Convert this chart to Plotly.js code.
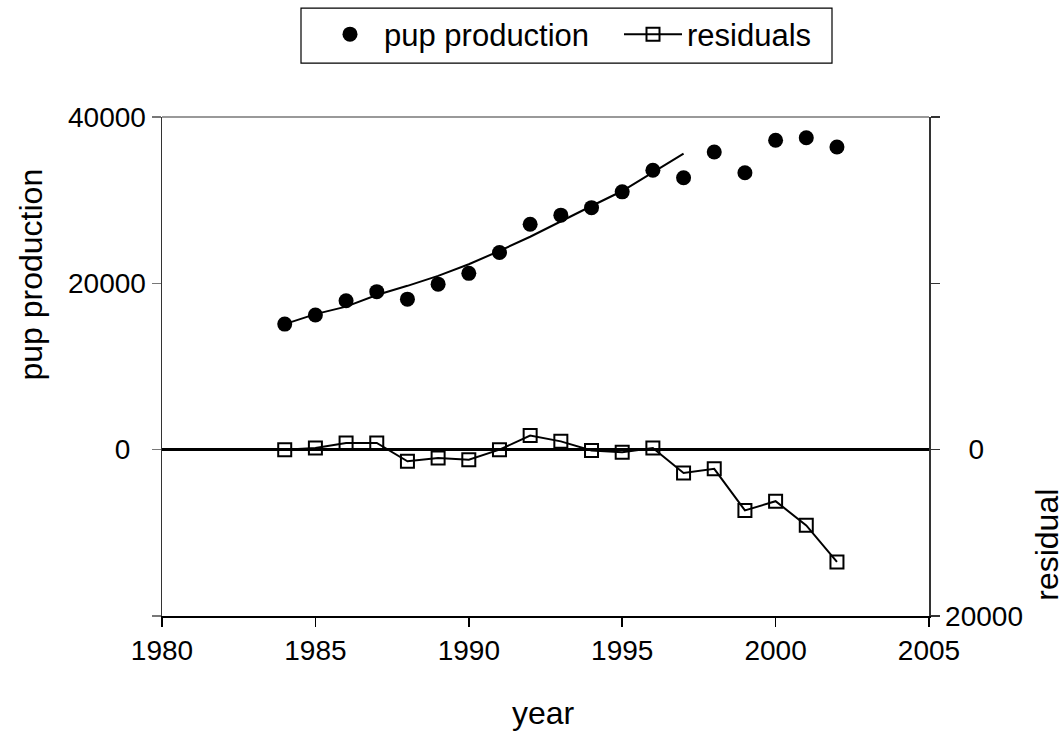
<!DOCTYPE html>
<html>
<head>
<meta charset="utf-8">
<script src="https://cdn.plot.ly/plotly-3.0.1.min.js"></script>
<style>
  html, body { margin: 0; padding: 0; background: #fff; }
  #chart { width: 1064px; height: 736px; }
</style>
</head>
<body>
<div id="chart"></div>
<script>
// ---- data ----
const years = [1984,1985,1986,1987,1988,1989,1990,1991,1992,1993,1994,1995,1996,1997,1998,1999,2000,2001,2002];
const pupProduction = [15100,16200,17900,19000,18100,19900,21200,23700,27100,28200,29100,31000,33600,32700,35800,33300,37200,37500,36400];
const fitYears = [1984,1985,1986,1987,1988,1989,1990,1991,1992,1993,1994,1995,1996,1997];
const fittedValues = [15100,16300,17200,18600,19700,20900,22300,23900,25600,27500,29300,31100,33400,35600];
const residuals = [0,200,800,800,-1400,-1000,-1200,0,1700,1000,-100,-300,200,-2800,-2300,-7300,-6200,-9100,-13500];
const xTicks = [1980,1985,1990,1995,2000,2005];
const leftTicks = [-20000,0,20000,40000];
const leftTickText = ['','0\u00a0\u00a0','20000','40000'];
const rightTicks = [-20000,0,20000,40000];
const rightTickText = ['20000','\u00a0\u00a0\u00a00','',''];

const FONT = 'Liberation Sans, Arial, sans-serif';

const traces = [
  {
    x: years, y: pupProduction, name: 'pup production', type: 'scatter', mode: 'markers',
    marker: {symbol: 'circle', size: 15, color: '#000'}, yaxis: 'y', legend: 'legend'
  },
  {
    x: fitYears, y: fittedValues, name: 'fitted', type: 'scatter', mode: 'lines',
    line: {color: '#000', width: 2}, showlegend: false, yaxis: 'y', hoverinfo: 'skip'
  },
  {
    x: years, y: residuals, name: 'residuals', type: 'scatter', mode: 'lines+markers',
    line: {color: '#000', width: 2},
    marker: {symbol: 'square-open', size: 13, color: '#000', line: {color: '#000', width: 2}},
    yaxis: 'y2', legend: 'legend2'
  }
];

const legendBase = {
  orientation: 'h', xref: 'container', yref: 'container',
  xanchor: 'left', y: 1 - 34.5 / 736, yanchor: 'middle',
  borderwidth: 0, bgcolor: 'rgba(0,0,0,0)',
  font: {family: FONT, size: 31, color: '#000'},
  itemwidth: 58
};

const layout = {
  width: 1064, height: 736,
  paper_bgcolor: '#fff', plot_bgcolor: '#fff',
  margin: {l: 162, r: 135, t: 117, b: 119.5},
  font: {family: FONT, color: '#000', size: 28},
  showlegend: true,
  legend: Object.assign({}, legendBase, {x: 316 / 1064}),
  legend2: Object.assign({}, legendBase, {x: 619 / 1064}),
  xaxis: {
    range: [1980, 2005], tickvals: xTicks, ticks: 'outside', ticklen: 9, tickwidth: 1.5, tickcolor: '#000',
    showline: true, linecolor: '#000', linewidth: 1.5, showgrid: false, zeroline: false,
    tickfont: {family: FONT, size: 28, color: '#000'}
  },
  yaxis: {
    range: [-20000, 40000], tickvals: leftTicks, ticktext: leftTickText, ticks: 'outside', ticklen: 9, tickwidth: 1.5, tickcolor: '#777',
    showline: true, linecolor: '#333', linewidth: 1.5, showgrid: false,
    zeroline: true, zerolinecolor: '#000', zerolinewidth: 2.5,
    tickfont: {family: FONT, size: 28, color: '#000'}
  },
  yaxis2: {
    overlaying: 'y', side: 'right', range: [-20000, 40000],
    tickvals: rightTicks, ticktext: rightTickText, ticks: 'outside', ticklen: 9, tickwidth: 1.5, tickcolor: '#333',
    showline: true, linecolor: '#333', linewidth: 1.5, showgrid: false, zeroline: false,
    tickfont: {family: FONT, size: 28, color: '#000'}
  },
  shapes: [
    {type: 'line', xref: 'paper', yref: 'paper', x0: 0, x1: 1, y0: 1, y1: 1, line: {color: '#999', width: 2}},
    // legend frame
    {type: 'rect', xref: 'paper', yref: 'paper',
     x0: (301 - 162) / 767, x1: (832 - 162) / 767,
     y0: (616.5 - 63) / 499.5, y1: (616.5 - 8) / 499.5,
     line: {color: '#000', width: 1.2}, fillcolor: 'rgba(0,0,0,0)', layer: 'below'}
  ],
  annotations: [
    {text: 'year', xref: 'paper', yref: 'paper', x: 0.497, y: -0.195, xanchor: 'center', yanchor: 'middle',
     showarrow: false, font: {family: FONT, size: 32, color: '#000'}},
    {text: 'pup production', xref: 'paper', yref: 'paper', x: -0.171, y: 0.684, xanchor: 'center', yanchor: 'middle',
     textangle: -90, showarrow: false, font: {family: FONT, size: 32, color: '#000'}},
    {text: 'residual', xref: 'paper', yref: 'paper', x: 1.154, y: 0.143, xanchor: 'center', yanchor: 'middle',
     textangle: -90, showarrow: false, font: {family: FONT, size: 32, color: '#000'}}
  ]
};

Plotly.newPlot('chart', traces, layout, {staticPlot: true, displayModeBar: false});
</script>
</body>
</html>
